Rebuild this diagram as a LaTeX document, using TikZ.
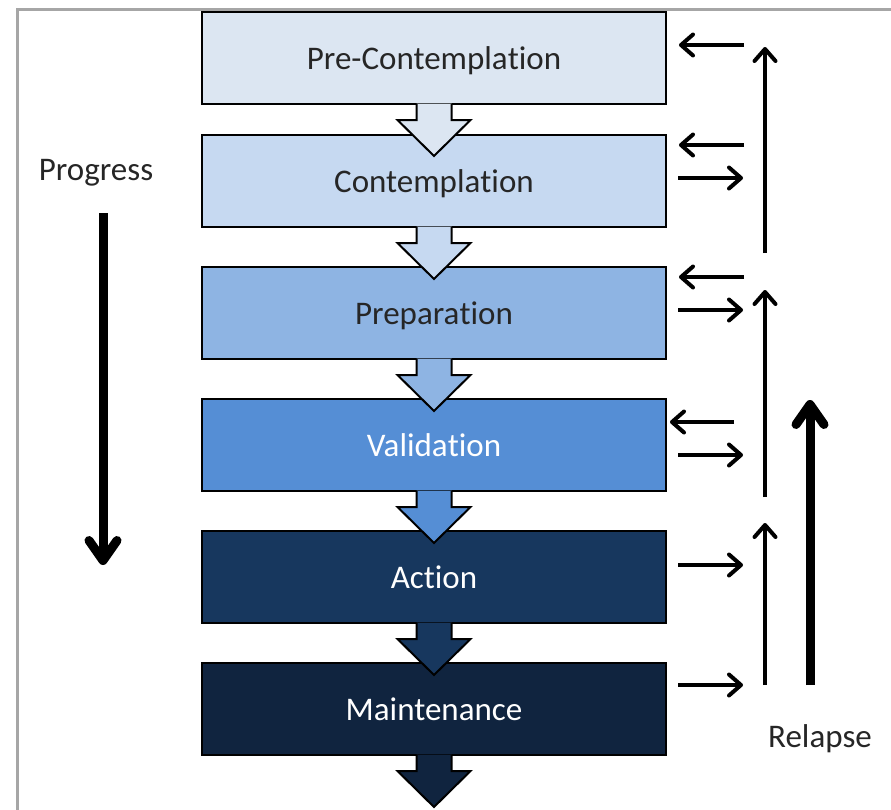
\documentclass[tikz,border=0pt]{standalone}
\usepackage{fontspec}
\setmainfont{Carlito}[Ligatures={NoCommon,NoContextual}]
\usetikzlibrary{arrows.meta,calc}
\definecolor{cA}{HTML}{DCE6F2}
\definecolor{cB}{HTML}{C6D9F1}
\definecolor{cC}{HTML}{8EB4E3}
\definecolor{cD}{HTML}{558ED5}
\definecolor{cE}{HTML}{17375E}
\definecolor{cF}{HTML}{10243F}
\definecolor{tdark}{HTML}{262626}
\definecolor{framegray}{HTML}{A6A6A6}
\newcommand\blockarrow[2]{%
  \fill[#2] ($(#1.south)+(-17.5,-1.5)$) -- ($(#1.south)+(-17.5,15)$) -- ($(#1.south)+(-36.5,15)$)
    -- ($(#1.south)+(0,51)$) -- ($(#1.south)+(36.5,15)$) -- ($(#1.south)+(17.5,15)$)
    -- ($(#1.south)+(17.5,-1.5)$) -- cycle;
  \draw[line width=2pt, line join=miter] ($(#1.south)+(-17.5,-1)$) -- ($(#1.south)+(-17.5,15)$) -- ($(#1.south)+(-36.5,15)$)
    -- ($(#1.south)+(0,51)$) -- ($(#1.south)+(36.5,15)$) -- ($(#1.south)+(17.5,15)$)
    -- ($(#1.south)+(17.5,-1)$);
}
\begin{document}
\begin{tikzpicture}[x=1pt,y=-1pt,
  stage/.style={draw=black, line width=2pt, minimum width=464pt, minimum height=92pt,
    inner sep=0pt, text height=26pt, text depth=4pt, text=tdark, font=\fontsize{33}{40}\selectfont},
  thinarrow/.style={line width=4pt, -{Straight Barb[length=12pt,width=21pt,line width=4pt,round]}},
  thickarrow/.style={line width=9pt, -{Straight Barb[length=20pt,width=28pt,line width=9pt,round]}},
  lbl/.style={text=tdark, font=\fontsize{33}{40}\selectfont, inner sep=0pt, anchor=base}]
\useasboundingbox (0,0) rectangle (891,809);
\fill[white] (0,0) rectangle (891,809);
\draw[framegray, line width=3pt] (17,812) -- (17,9) -- (894,9);

\node[stage, fill=cA] (pre) at (434,58) {Pre-Contempla\kern0pt tion};
\node[stage, fill=cB] (con) at (434,181) {Contempla\kern0pt tion};
\node[stage, fill=cC] (prep) at (434,313) {Prepara\kern0pt tion};
\node[stage, fill=cD, text=white] (val) at (434,445) {Valida\kern0pt tion};
\node[stage, fill=cE, text=white] (act) at (434,577) {Ac\kern0pt tion};
\node[stage, fill=cF, text=white] (mnt) at (434,709) {Maintenance};

\blockarrow{pre}{cA}
\blockarrow{con}{cB}
\blockarrow{prep}{cC}
\blockarrow{val}{cD}
\blockarrow{act}{cE}
\blockarrow{mnt}{cF}

% horizontal arrows
\draw[thinarrow] ([xshift=77pt,yshift=13pt]pre.east) -- ([xshift=12pt,yshift=13pt]pre.east);
\draw[thinarrow] ([xshift=77pt,yshift=36pt]con.east) -- ([xshift=12pt,yshift=36pt]con.east);
\draw[thinarrow] ([xshift=11pt,yshift=3pt]con.east) -- ([xshift=76pt,yshift=3pt]con.east);
\draw[thinarrow] ([xshift=77pt,yshift=36pt]prep.east) -- ([xshift=12pt,yshift=36pt]prep.east);
\draw[thinarrow] ([xshift=11pt,yshift=3pt]prep.east) -- ([xshift=76pt,yshift=3pt]prep.east);
\draw[thinarrow] ([xshift=67pt,yshift=23pt]val.east) -- ([xshift=3pt,yshift=23pt]val.east);
\draw[thinarrow] ([xshift=11pt,yshift=-10pt]val.east) -- ([xshift=76pt,yshift=-10pt]val.east);
\draw[thinarrow] ([xshift=11pt,yshift=12pt]act.east) -- ([xshift=76pt,yshift=12pt]act.east);
\draw[thinarrow] ([xshift=11pt,yshift=24pt]mnt.east) -- ([xshift=76pt,yshift=24pt]mnt.east);

% vertical relapse arrows
\coordinate (v1s) at (765,253); \coordinate (v1e) at (765,47);
\coordinate (v2s) at (765,497); \coordinate (v2e) at (765,290);
\coordinate (v3s) at (765,685); \coordinate (v3e) at (765,523);
\draw[thinarrow] (v1s) -- (v1e);
\draw[thinarrow] (v2s) -- (v2e);
\draw[thinarrow] (v3s) -- (v3e);
\coordinate (rs) at (810,685); \coordinate (re) at (810,400);
\draw[thickarrow] (rs) -- (re);

% progress
\node[lbl] (prog) at (96,180) {Progress};
\coordinate (ps) at (103,213); \coordinate (pe) at (103,565);
\draw[thickarrow] (ps) -- (pe);
\node[lbl] (rel) at (820,747) {Relapse};
\end{tikzpicture}
\end{document}
